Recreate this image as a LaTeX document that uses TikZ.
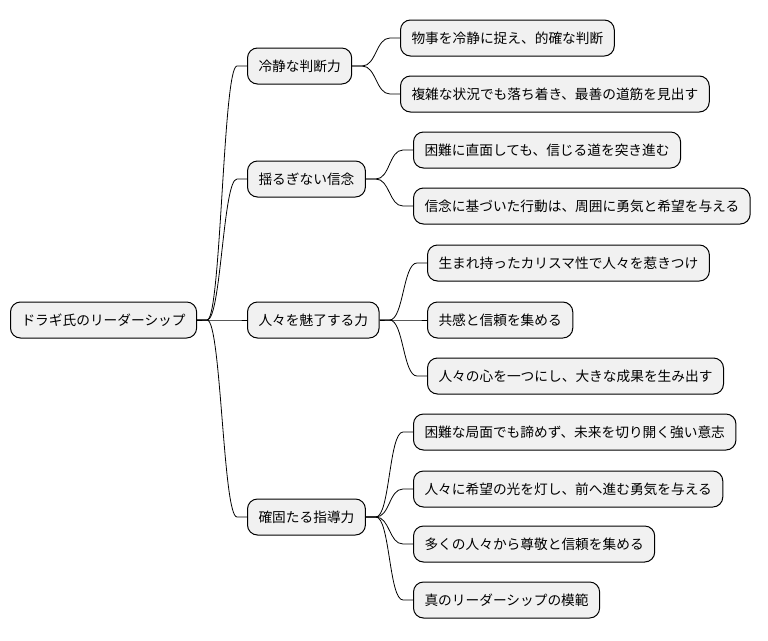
\documentclass[tikz,border=0pt]{standalone}
\usepackage{fontspec}
\setmainfont{Noto Sans CJK JP}
\definecolor{boxfill}{HTML}{F1F1F1}
\begin{document}
\begin{tikzpicture}[x=1pt,y=-1pt,font=\fontsize{13.7}{16}\selectfont,
  topic/.style={draw=black,line width=1pt,fill=boxfill,rounded corners=10pt,
    minimum height=36pt,inner xsep=11pt,anchor=west},
  link/.style={line width=0.8pt}]
\useasboundingbox (0,0) rectangle (768,640);

% Root
\node[topic] (root) at (10,320) {ドラギ氏のリーダーシップ};

% First level
\node[topic] (calm) at (247,66) {冷静な判断力};
\node[topic] (faith) at (247,179) {揺るぎない信念};
\node[topic] (charm) at (247,320) {人々を魅了する力};
\node[topic] (lead) at (247,517) {確固たる指導力};

% Calm judgement
\node[topic] (calm1) at (400,38) {物事を冷静に捉え、的確な判断};
\node[topic] (calm2) at (400,94) {複雑な状況でも落ち着き、最善の道筋を見出す};

% Firm belief
\node[topic] (faith1) at (413,150) {困難に直面しても、信じる道を突き進む};
\node[topic] (faith2) at (413,206) {信念に基づいた行動は、周囲に勇気と希望を与える};

% Charm
\node[topic] (charm1) at (427,263) {生まれ持ったカリスマ性で人々を惹きつけ};
\node[topic] (charm2) at (427,320) {共感と信頼を集める};
\node[topic] (charm3) at (427,376) {人々の心を一つにし、大きな成果を生み出す};

% Leadership
\node[topic] (lead1) at (413,432) {困難な局面でも諦めず、未来を切り開く強い意志};
\node[topic] (lead2) at (413,489) {人々に希望の光を灯し、前へ進む勇気を与える};
\node[topic] (lead3) at (413,544) {多くの人々から尊敬と信頼を集める};
\node[topic] (lead4) at (413,600) {真のリーダーシップの模範};

% Connectors
\foreach \a/\b in {root/calm,root/faith,root/charm,root/lead,
  calm/calm1,calm/calm2,faith/faith1,faith/faith2,
  charm/charm1,charm/charm2,charm/charm3,
  lead/lead1,lead/lead2,lead/lead3,lead/lead4}
  \draw[link] (\a.east) -- ++(10,0) .. controls +(14,0) and +(-14,0) .. ([xshift=-10pt]\b.west) -- (\b.west);
\end{tikzpicture}
\end{document}
